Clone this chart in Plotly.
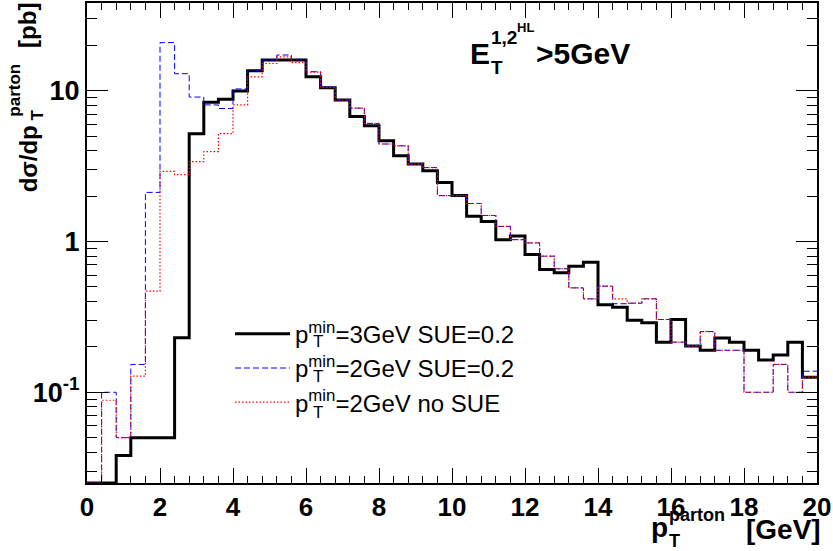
import numpy as np
import plotly.graph_objects as go

# ---------------- data ----------------
bin_edges = np.linspace(0.0, 20.0, 51)  # 50 bins of 0.4 GeV

ptmin3_sue02 = [0, 0, 0.038, 0.05, 0.05, 0.05, 0.23, 5.2, 8.4, 8.8,
                10.0, 13.6, 16.0, 16.0, 16.0, 12.4, 10.5, 8.7, 6.76, 5.87,
                4.67, 3.71, 3.27, 2.95, 2.47, 2.02, 1.47, 1.36, 1.03, 1.09,
                0.82, 0.653, 0.62, 0.687, 0.73, 0.381, 0.367, 0.30, 0.289, 0.215,
                0.304, 0.203, 0.19, 0.229, 0.215, 0.19, 0.164, 0.177, 0.215, 0.126]

ptmin2_sue02 = [0, 0.1, 0.05, 0.153, 2.12, 20.9, 13.0, 9.1, 8.07, 7.64,
                10.3, 13.7, 16.0, 17.3, 16.2, 13.4, 10.6, 8.7, 7.68, 6.08,
                4.44, 4.32, 3.27, 3.1, 2.02, 2.02, 1.79, 1.49, 1.26, 1.03,
                0.98, 0.80, 0.66, 0.493, 0.417, 0.506, 0.387, 0.39, 0.417, 0.304,
                0.215, 0.203, 0.253, 0.19, 0.19, 0.1, 0.1, 0.153, 0.1, 0.138]

ptmin2_nosue = [0, 0.0885, 0.05, 0.128, 0.469, 2.92, 2.78, 3.39, 3.95, 5.21,
                8.07, 12.4, 15.2, 16.8, 15.4, 13.3, 10.5, 8.7, 7.68, 6.08,
                4.44, 4.32, 3.27, 3.1, 2.02, 2.02, 1.79, 1.49, 1.26, 1.03,
                0.98, 0.80, 0.66, 0.493, 0.417, 0.506, 0.417, 0.39, 0.417, 0.304,
                0.215, 0.203, 0.253, 0.19, 0.19, 0.1, 0.1, 0.153, 0.1, 0.126]

series_names = ["p<sup>min</sup>=3GeV SUE=0.2",
                "p<sup>min</sup>=2GeV SUE=0.2",
                "p<sup>min</sup>=2GeV no SUE"]

x_tick_vals = [0, 2, 4, 6, 8, 10, 12, 14, 16, 18, 20]
y_tick_vals = [0.1, 1, 10]
y_tick_text = ["10<sup>-1</sup>", "1", "10"]

y_min, y_max = 0.025, 38.3

# ---------------- figure ----------------
FONT = "Liberation Sans"
W, H = 833, 551
L, R, T, B = 87, 817, 1, 483


def px(x):
    return (x - L) / (R - L)


def py(y):
    return (B - y) / (B - T)


def hist_y(vals):
    v = np.asarray(vals, dtype=float)
    v = np.where(v > 0, v, y_min)  # empty bins drawn on the axis minimum (ROOT style)
    return np.append(v, v[-1])


fig = go.Figure()
styles = [dict(color="black", width=3, dash="solid"),
          dict(color="#0000ff", width=1, dash="6px,3px"),
          dict(color="#ff0000", width=1.2, dash="1.5px,2px")]
for vals, name, st in zip([ptmin3_sue02, ptmin2_sue02, ptmin2_nosue], series_names, styles):
    fig.add_trace(go.Scatter(x=bin_edges, y=hist_y(vals), mode="lines", name=name,
                             line=dict(shape="hv", **st), hoverinfo="skip"))

fig.update_xaxes(range=[0, 20], tickvals=x_tick_vals, ticks="inside", ticklen=15, tickwidth=1,
                 tickcolor="black", showgrid=False, zeroline=False, showline=True, linewidth=2,
                 linecolor="black", mirror="allticks",
                 minor=dict(dtick=0.4, ticks="inside", ticklen=7, tickwidth=1, tickcolor="black",
                            showgrid=False),
                 tickfont=dict(family=FONT, size=26, color="black", weight="bold"))
fig.update_yaxes(type="log", range=[np.log10(y_min), np.log10(y_max)], tickvals=y_tick_vals,
                 ticktext=y_tick_text, ticks="inside", ticklen=21, tickwidth=1, tickcolor="black",
                 showgrid=False, zeroline=False, showline=True, linewidth=2, linecolor="black",
                 mirror="allticks",
                 minor=dict(dtick="D1", ticks="inside", ticklen=10, tickwidth=1, tickcolor="black",
                            showgrid=False),
                 tickfont=dict(family=FONT, size=27, color="black", weight="bold"))

annos = []


def text(t, x, y, size, bold=True, angle=0, xa="left", ya="middle"):
    annos.append(dict(text=t, x=px(x), y=py(y), xref="paper", yref="paper", showarrow=False,
                      xanchor=xa, yanchor=ya, textangle=angle,
                      font=dict(family=FONT, size=size, color="black",
                                weight="bold" if bold else "normal")))


# label  E_T^{1,2^{HL}} > 5GeV
text("E", 468, 52, 30)
text("T", 489, 66, 19)
text("1,2", 489, 36, 19)
text("HL", 515, 26, 13)
text("&gt;5GeV", 534, 52, 30)

# x-axis title  p_T^parton [GeV]
text("p", 649, 528, 28)
text("parton", 667, 515, 18)
text("T", 667, 541, 18)
text("[GeV]", 744, 530, 28)

# y-axis title  dσ/dp_T^parton [pb]
text("dσ/dp", 28, 158, 24, angle=-90, xa="center")
text("parton", 15, 89, 17, angle=-90, xa="center")
text("T", 38, 114, 17, angle=-90, xa="center")
text("[pb]", 28, 24, 24, angle=-90, xa="center")

# subscripts T in legend entries (placed under the superscript)
for yy in [341, 376, 412]:
    text("T", 311, yy, 17, bold=False)

fig.update_layout(width=W, height=H, margin=dict(l=L, r=W - R, t=T, b=H - B),
                  plot_bgcolor="white", paper_bgcolor="white",
                  showlegend=True,
                  legend=dict(x=px(230), y=py(311), xanchor="left", yanchor="top",
                              bgcolor="rgba(0,0,0,0)", borderwidth=0, itemwidth=55,
                              font=dict(family=FONT, size=24, color="black"),
                              tracegroupgap=0),
                  annotations=annos)

fig.write_html("out.html", config={"displayModeBar": False},
               post_script="document.body.style.margin='0px';")
